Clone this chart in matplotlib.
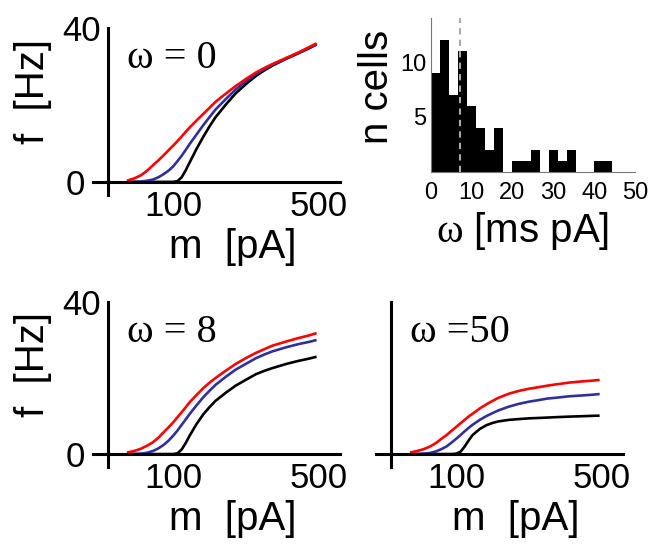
import numpy as np
import matplotlib
matplotlib.use("Agg")
import matplotlib.pyplot as plt
from matplotlib.ticker import NullLocator, FixedLocator, FixedFormatter

plt.rcParams['font.family'] = ['Liberation Sans', 'DejaVu Sans']
plt.rcParams['mathtext.fontset'] = 'custom'
plt.rcParams['mathtext.rm'] = 'Liberation Serif'

# input current m [pA]
m = [60, 65, 70, 75, 80, 85, 90, 95, 100, 105, 110, 115, 120, 130, 140,
     150, 160, 180, 200, 225, 250, 275, 300, 350, 400, 450, 490]

# f [Hz] for omega = 0
f0_red = [0.3, 0.9, 1.7, 2.9, 4.3, 5.6, 6.9, 8.2, 9.4, 10.6, 11.8, 13.0, 14.1, 16.0, 17.7,
          19.3, 20.8, 23.0, 24.9, 26.8, 28.4, 29.6, 30.6, 32.2, 33.6, 35.0, 36.0]
f0_blue = [0.0, 0.02, 0.1, 0.3, 0.6, 1.2, 2.0, 2.9, 4.0, 5.4, 6.8, 8.3, 9.8, 12.4, 14.8,
           16.9, 18.8, 21.6, 24.0, 26.2, 28.0, 29.3, 30.4, 32.1, 33.5, 34.8, 35.8]
f0_black = [0.0, 0.0, 0.0, 0.0, 0.0, 0.0, 0.0, 0.0, 0.0, 0.2, 1.2, 3.0, 5.0, 8.7, 11.8,
            14.5, 16.8, 20.2, 23.0, 25.5, 27.5, 29.0, 30.2, 32.0, 33.4, 34.7, 35.7]

# omega = 8
f8_red = [0.4, 0.8, 1.4, 2.2, 3.1, 4.3, 5.7, 7.0, 8.3, 9.7, 11.0, 12.3, 13.6, 15.6, 17.4,
          18.8, 20.0, 22.0, 23.7, 25.3, 26.6, 27.6, 28.5, 29.6, 30.5, 31.2, 31.8]
f8_blue = [0.0, 0.03, 0.1, 0.35, 0.8, 1.5, 2.4, 3.5, 4.8, 6.2, 7.7, 9.1, 10.5, 12.9, 15.0,
           16.7, 18.2, 20.4, 22.2, 23.8, 25.2, 26.2, 27.0, 28.1, 28.9, 29.5, 30.0]
f8_black = [0.0, 0.0, 0.0, 0.0, 0.0, 0.0, 0.0, 0.0, 0.0, 0.2, 1.2, 2.9, 4.8, 8.0, 10.5,
            12.4, 14.0, 16.2, 18.0, 19.6, 21.0, 21.9, 22.6, 23.7, 24.5, 25.1, 25.6]

# omega = 50
f50_red = [0.4, 0.8, 1.3, 2.0, 2.9, 4.0, 5.0, 6.1, 7.1, 8.1, 9.0, 9.9, 10.6, 12.0, 13.1,
           14.0, 14.8, 15.9, 16.6, 17.2, 17.6, 18.0, 18.3, 18.8, 19.1, 19.3, 19.5]
f50_blue = [0.0, 0.03, 0.1, 0.3, 0.7, 1.3, 2.0, 3.0, 4.0, 5.0, 6.0, 6.9, 7.7, 9.0, 10.0,
            10.8, 11.5, 12.5, 13.2, 13.8, 14.2, 14.6, 14.8, 15.2, 15.4, 15.6, 15.8]
f50_black = [0.0, 0.0, 0.0, 0.0, 0.0, 0.0, 0.0, 0.0, 0.1, 0.6, 2.0, 3.6, 5.0, 6.6, 7.6,
             8.2, 8.6, 9.0, 9.2, 9.4, 9.5, 9.6, 9.7, 9.85, 9.95, 10.05, 10.1]

# histogram of omega [ms pA]
hist_counts = [9, 12, 7, 11, 6, 4, 2, 4, 0, 1, 1, 2, 0, 2, 1, 2, 0, 0, 1, 1]
hist_min = 0.0
hist_max = 44.4
omega_line = 7.1

red = '#ff0000'
blue = '#30309a'
lw = 1.9

fig = plt.figure(figsize=(6.53, 5.46), dpi=100)

def fi_panel(rect, curves, label, show_y):
    ax = fig.add_axes(rect)
    for f, c in curves:
        ax.plot(m, f, color=c, lw=lw, solid_capstyle='butt')
    ax.set_xscale('log')
    ax.set_xlim(41.2, 635)
    ax.set_ylim(-3.4, 40)
    ax.spines['top'].set_visible(False)
    ax.spines['right'].set_visible(False)
    ax.spines['left'].set_position(('data', 48.5))
    ax.spines['bottom'].set_position(('data', 0))
    ax.spines['left'].set_linewidth(2.2)
    ax.spines['bottom'].set_linewidth(2.2)
    ax.xaxis.set_major_locator(FixedLocator([100, 500]))
    ax.xaxis.set_major_formatter(FixedFormatter(['100', '500']))
    ax.xaxis.set_minor_locator(NullLocator())
    ax.tick_params(axis='x', length=0, labelsize=25, pad=6)
    if show_y:
        ax.set_yticks([40])
        ax.set_yticklabels(['40'])
        ax.set_yticks([0], minor=True)
        ax.set_yticklabels(['0'], minor=True)
        ax.tick_params(axis='y', which='major', length=0, labelsize=25, pad=5)
        ax.tick_params(axis='y', which='minor', length=0, labelsize=25, pad=16)
        ax.set_ylabel('f  [Hz]', fontsize=29)
        ax.yaxis.set_label_coords(-0.166, 0.62)
    else:
        ax.set_yticks([])
    ax.set_xlabel('m  [pA]', fontsize=29)
    ax.xaxis.set_label_coords(0.567, -0.2)
    ax.text(0.138, 0.815, label, transform=ax.transAxes, fontsize=29,
            family=['Liberation Serif', 'DejaVu Serif'], va='center', ha='left')
    return ax

fi_panel([0.1424, 0.6429, 0.3783, 0.3059],
         [(f0_black, 'black'), (f0_blue, blue), (f0_red, red)], 'ω = 0', True)
fi_panel([0.1424, 0.1447, 0.3783, 0.3022],
         [(f8_black, 'black'), (f8_blue, blue), (f8_red, red)], 'ω = 8', True)
fi_panel([0.5758, 0.1447, 0.3783, 0.3022],
         [(f50_black, 'black'), (f50_blue, blue), (f50_red, red)], 'ω =50', False)

# histogram
axh = fig.add_axes([0.6596, 0.685, 0.3129, 0.282])
edges = np.linspace(hist_min, hist_max, len(hist_counts) + 1)
axh.stairs(hist_counts, edges, fill=True, color='black')
axh.axvline(omega_line, color='#aaaaaa', lw=1.5, ls=(0, (3, 2.5)))
axh.set_xlim(0, 50)
axh.set_ylim(0, 14)
axh.spines['top'].set_visible(False)
axh.spines['right'].set_visible(False)
for s in ['left', 'bottom']:
    axh.spines[s].set_color('#777777')
    axh.spines[s].set_linewidth(0.8)
axh.set_xticks([0, 10, 20, 30, 40, 50])
axh.set_yticks([5, 10])
axh.tick_params(axis='x', length=0, labelsize=17, pad=7)
axh.tick_params(axis='y', length=0, labelsize=17, pad=3)
axh.set_ylabel('n cells', fontsize=29)
axh.yaxis.set_label_coords(-0.17, 0.55)
axh.set_xlabel(r'$\mathrm{\omega}$ [ms pA]', fontsize=29)
axh.xaxis.set_label_coords(0.45, -0.25)

fig.savefig('out.png', dpi=100)
